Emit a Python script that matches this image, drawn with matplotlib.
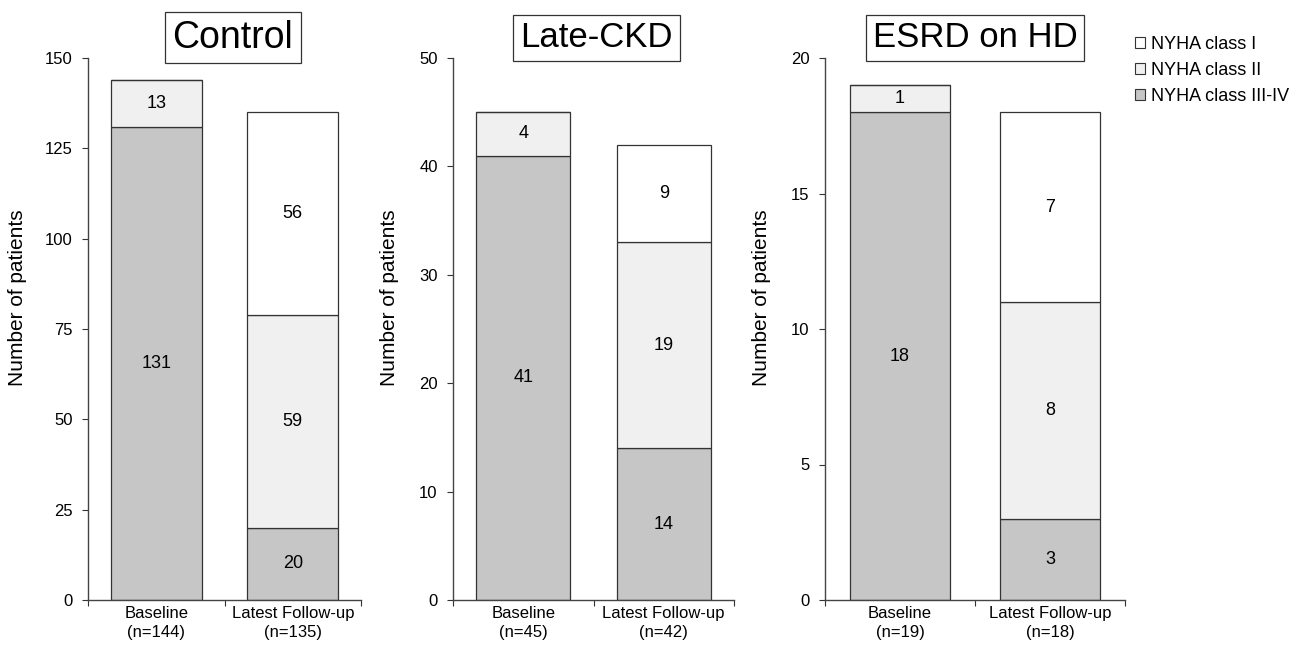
import matplotlib
matplotlib.use('Agg')
import matplotlib.pyplot as plt
from matplotlib.patches import Patch

plt.rcParams['font.family'] = ['Liberation Sans', 'DejaVu Sans']

# data
panels = ["Control", "Late-CKD", "ESRD on HD"]
group_labels = [
    ["Baseline\n(n=144)", "Latest Follow-up\n(n=135)"],
    ["Baseline\n(n=45)", "Latest Follow-up\n(n=42)"],
    ["Baseline\n(n=19)", "Latest Follow-up\n(n=18)"],
]
class_3_4 = [[131, 20], [41, 14], [18, 3]]
class_2 = [[13, 59], [4, 19], [1, 8]]
class_1 = [[0, 56], [0, 9], [0, 7]]
y_max = [150, 50, 20]
y_step = [25, 10, 5]
legend_labels = ["NYHA class I", "NYHA class II", "NYHA class III-IV"]

col_1 = "#ffffff"
col_2 = "#f0f0f0"
col_34 = "#c6c6c6"
edge = "#333333"

W, H = 1293, 647
fig = plt.figure(figsize=(W / 100, H / 100), dpi=100)

# axes boxes in pixels: left, right
boxes = [(88, 361), (453, 734), (825, 1125)]
top_px, bot_px = 58, 600
title_x = [0.53, 0.51, 0.5]
title_size = [27, 25, 25]
ylab_off = [61, 54, 54]

for i, (l, r) in enumerate(boxes):
    ax = fig.add_axes([l / W, 1 - bot_px / H, (r - l) / W, (bot_px - top_px) / H])
    x = [0, 1]
    b3 = class_3_4[i]
    b2 = class_2[i]
    b1 = class_1[i]
    bottom2 = b3
    bottom1 = [a + b for a, b in zip(b3, b2)]
    ax.bar(x, b3, width=0.67, color=col_34, edgecolor=edge, linewidth=0.9)
    ax.bar(x, b2, width=0.67, bottom=bottom2, color=col_2, edgecolor=edge, linewidth=0.9)
    ax.bar(x, b1, width=0.67, bottom=bottom1, color=col_1, edgecolor=edge, linewidth=0.9)

    for j in x:
        segs = [(b3[j], 0), (b2[j], bottom2[j]), (b1[j], bottom1[j])]
        for v, b in segs:
            if v > 0:
                ax.text(j, b + v / 2, str(v), ha='center', va='center', fontsize=13)

    ax.set_xlim(-0.5, 1.5)
    ax.set_ylim(0, y_max[i])
    ax.set_yticks(range(0, y_max[i] + 1, y_step[i]))
    ax.set_xticks([-0.5, 0.5, 1.5])
    ax.set_xticklabels([])
    ax.set_xticks(x, minor=True)
    ax.set_xticklabels(group_labels[i], minor=True, fontsize=12, linespacing=1.4)
    ax.tick_params(axis='x', which='minor', length=0, pad=4)
    ax.tick_params(axis='x', which='major', direction='out', length=4, color=edge)
    ax.tick_params(axis='y', direction='out', length=4, color=edge, labelsize=12, pad=7)
    for s in ['top', 'right']:
        ax.spines[s].set_visible(False)
    for s in ['left', 'bottom']:
        ax.spines[s].set_color('#444444')
        ax.spines[s].set_linewidth(1.0)

    ax.set_ylabel("Number of patients", fontsize=15)
    ax.yaxis.set_label_coords(-ylab_off[i] / (r - l), 0.557)

    ax.text(title_x[i], 1.037, panels[i], transform=ax.transAxes, ha='center', va='center',
            fontsize=title_size[i], bbox=dict(boxstyle='square,pad=0.2', facecolor='white',
                                              edgecolor=edge, linewidth=0.9))

handles = [Patch(facecolor=c, edgecolor=edge, linewidth=0.8) for c in [col_1, col_2, col_34]]
fig.legend(handles, legend_labels, loc='upper left', bbox_to_anchor=(1128 / W, 1 - 29 / H),
           frameon=False, fontsize=13, handlelength=0.55, handleheight=0.55,
           handletextpad=0.3, labelspacing=0.5, borderaxespad=0)

fig.savefig("out.png", dpi=100)
